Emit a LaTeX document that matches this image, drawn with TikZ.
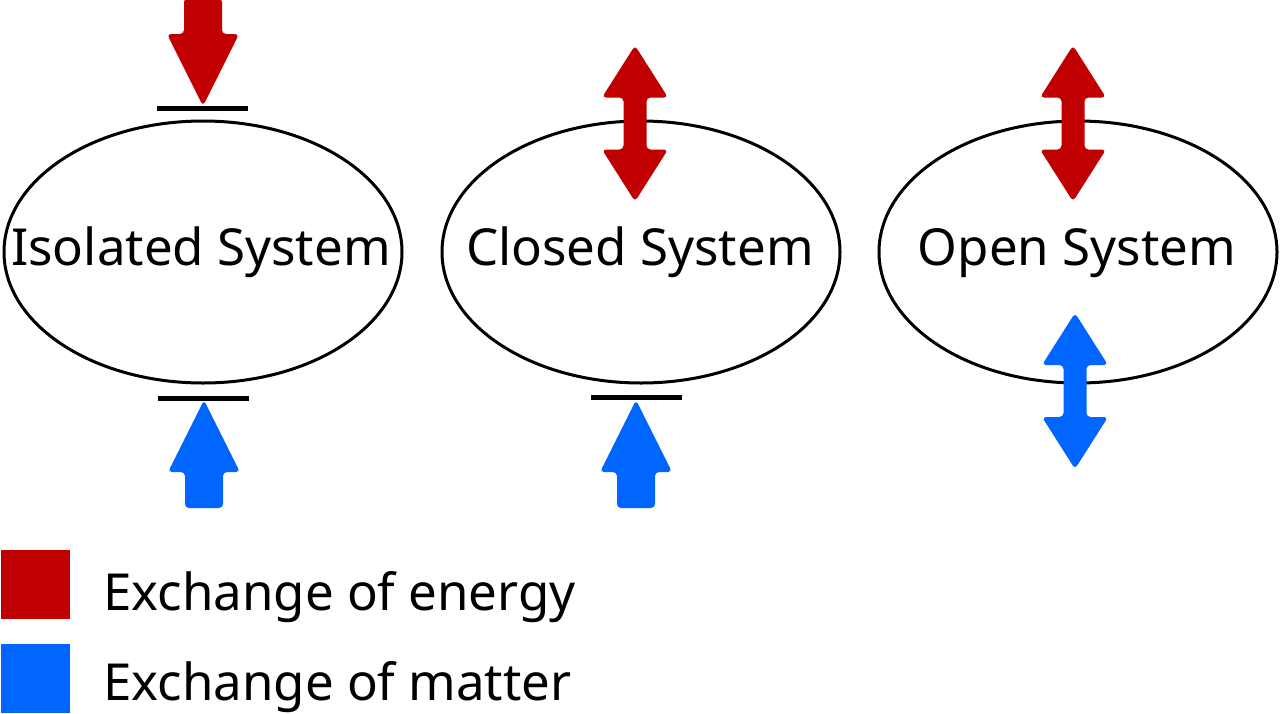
\documentclass[tikz,border=0pt]{standalone}
\usepackage{fontspec}
\setmainfont{Noto Sans}
\usepackage{tikz}
\usetikzlibrary{
  positioning,
  shapes.geometric
}
\definecolor{energia}{HTML}{C00000}
\definecolor{materia}{HTML}{0066FF}

\begin{document}
\begin{tikzpicture}[
    x=1pt, y=-1pt,
    sistema/.style={
    draw,
    ellipse,
    line width=3pt,
    minimum width=398pt,
    minimum height=262pt
    },
    rotulo/.style={
    font=\fontsize{51}{60}\selectfont,
    anchor=base,
    inner sep=0pt
    },
    barra/.style={line width=5pt},
    chave/.style={
    minimum size=69pt,
    inner sep=0pt
    },
    legenda/.style={
    font=\fontsize{51}{60}\selectfont,
    anchor=base west,
    inner sep=0pt
    },
    umaseta/.pic={
    \fill[rounded corners=4pt] (0,0) -- (36,72) -- (19,72) -- (19,108)
      -- (-19,108) -- (-19,72) -- (-36,72) -- cycle;
    },
    duasetas/.pic={
    \fill[rounded corners=4pt] (0,-78) -- (33,-26) -- (11.5,-26) -- (11.5,26)
      -- (33,26) -- (0,78) -- (-33,26) -- (-11.5,26) -- (-11.5,-26)
      -- (-33,-26) -- cycle;
    }
    ]
    \useasboundingbox (0,0) rectangle (1280,713);
    
    % sistemas
    \node[sistema] (iso) at (203,252) {};
    \node[sistema] (fech) at (641,252) {};
    \node[sistema] (aber) at (1078,252) {};
    
    \node[rotulo] (isoT) at (201,265) {Isolated System};
    \node[rotulo] (fechT) at (640,265) {Closed System};
    \node[rotulo] (aberT) at (1077,265) {Open System};
    
    % isolado
    \draw[barra] (157,108) -- (248,108);
    \draw[barra] (158,398) -- (249,398);
    \pic[fill=energia, rotate=180] at (203,106) {umaseta};
    \pic[fill=materia] at (204,400) {umaseta};
    
    % fechado
    \draw[barra] (591,397) -- (682,397);
    \pic[fill=energia] at (635,123.5) {duasetas};
    \pic[fill=materia] at (636,400) {umaseta};
    
    % aberto
    \pic[fill=energia] at (1073,123.5) {duasetas};
    \pic[fill=materia] at (1075,391) {duasetas};
    
    % legenda
    \node[chave, fill=energia] (chE) at (35,584.5) {};
    \node[chave, fill=materia] (chM) at (35,678.5) {};
    \node[legenda] (txtE) at (103,610) {Exchange of energy};
    \node[legenda] (txtM) at (103,700) {Exchange of matter};
    
    \end{tikzpicture}
\end{document}
